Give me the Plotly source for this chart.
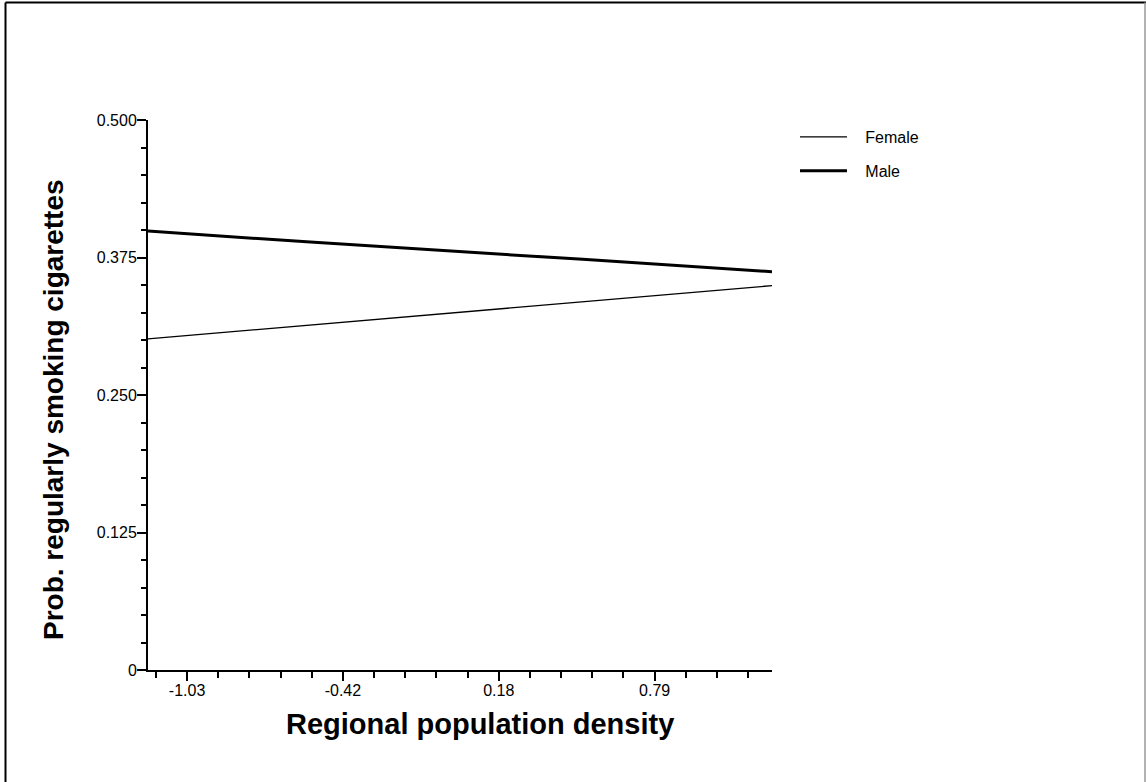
import plotly.graph_objects as go

# Data
density = [-1.182, -0.55, 0.51, 0.83, 1.247]
female = [0.301, 0.3135, 0.335, 0.341, 0.3494]
male = [0.399, 0.389, 0.3733, 0.3685, 0.3621]

x_tickvals = [-1.03, -0.42333, 0.18333, 0.79]
x_ticktext = ["-1.03", "-0.42", "0.18", "0.79"]
y_tickvals = [0, 0.125, 0.25, 0.375, 0.5]
y_ticktext = ["0", "0.125", "0.250", "0.375", "0.500"]
series_names = ["Female", "Male"]

FONT = "Liberation Sans, Arial, sans-serif"
GAP = "\u00a0\u00a0\u00a0"

fig = go.Figure()
fig.add_trace(go.Scatter(x=density, y=female, mode="lines", name=GAP + series_names[0],
                         line=dict(color="black", width=1.3), legendgroup="f"))
fig.add_trace(go.Scatter(x=density, y=male, mode="lines", name=GAP + series_names[1],
                         line=dict(color="black", width=3), legendgroup="m"))

L, R, T, B = 148, 1146 - 772, 120, 782 - 670
W, H = 1146, 782
pw, ph = W - L - R, H - T - B

def px(x):
    return (x - L) / pw

def py(y):
    return (H - B - y) / ph

fig.update_layout(
    width=W, height=H,
    margin=dict(l=L, r=R, t=T, b=B, pad=0),
    paper_bgcolor="white", plot_bgcolor="white",
    font=dict(family=FONT, size=16, color="black"),
    showlegend=True,
    legend=dict(x=px(795), y=py(120), xanchor="left", yanchor="top",
                font=dict(size=16), bgcolor="rgba(0,0,0,0)",
                tracegroupgap=10, itemwidth=47),
    xaxis=dict(range=[density[0], density[-1]], showgrid=False, zeroline=False,
               showline=True, linecolor="black", linewidth=2,
               tickmode="array", tickvals=x_tickvals, ticktext=x_ticktext,
               ticks="outside", ticklen=9, tickwidth=2, tickcolor="black",
               tickfont=dict(size=16), ticklabelstandoff=-4,
               minor=dict(tickmode="linear", tick0=-1.03, dtick=0.1213333,
                          ticks="outside", ticklen=6, tickwidth=2, tickcolor="black")),
    yaxis=dict(range=[0, 0.5], showgrid=False, zeroline=False,
               showline=True, linecolor="black", linewidth=2,
               tickmode="array", tickvals=y_tickvals, ticktext=y_ticktext,
               ticks="outside", ticklen=9, tickwidth=2, tickcolor="black",
               tickfont=dict(size=16), ticklabelstandoff=-3,
               minor=dict(tickmode="linear", tick0=0, dtick=0.025,
                          ticks="outside", ticklen=5, tickwidth=2, tickcolor="black")),
    annotations=[
        dict(text="<b>Prob. regularly smoking cigarettes</b>", xref="paper", yref="paper",
             x=px(53), y=py(410), xanchor="center", yanchor="middle", textangle=-90,
             showarrow=False, font=dict(size=28, family=FONT, color="black")),
        dict(text="<b>Regional population density</b>", xref="paper", yref="paper",
             x=px(480), y=py(724), xanchor="center", yanchor="middle",
             showarrow=False, font=dict(size=29, family=FONT, color="black")),
    ],
    shapes=[
        dict(type="line", xref="paper", yref="paper", x0=px(5.5), x1=px(5.5),
             y0=py(2.5), y1=py(782), line=dict(color="black", width=2)),
        dict(type="line", xref="paper", yref="paper", x0=px(5.5), x1=px(1146),
             y0=py(2.5), y1=py(2.5), line=dict(color="black", width=2)),
        dict(type="line", xref="paper", yref="paper", x0=px(1145), x1=px(1145),
             y0=py(2.5), y1=py(782), line=dict(color="#999999", width=1.5)),
    ],
)

fig.write_html(
    "out.html",
    config={"displayModeBar": False},
    post_script="document.body.style.margin='0px';document.body.style.overflow='hidden';",
)
